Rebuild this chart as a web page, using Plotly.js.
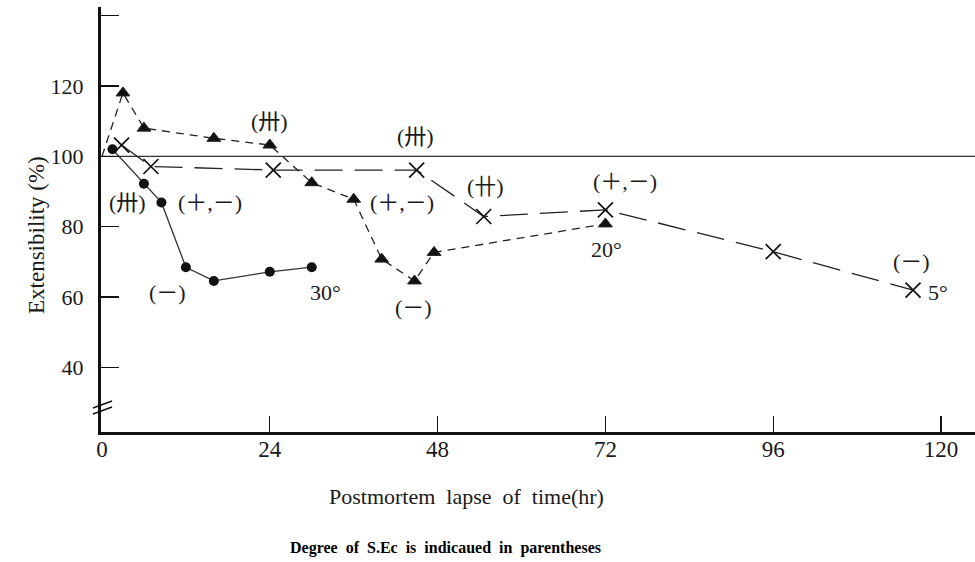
<!DOCTYPE html>
<html>
<head>
<meta charset="utf-8">
<script src="https://cdn.plot.ly/plotly-3.0.1.min.js"></script>
<style>html,body{margin:0;padding:0;background:#fff}</style>
</head>
<body>
<div id="chart" style="width:975px;height:562px"></div>
<script>
// ---- data ----
const circleHours = [1.5, 6, 8.5, 12, 16, 24, 30];
const circleValues = [102, 92.2, 86.9, 68.5, 64.6, 67.2, 68.5];

const triangleHours = [0, 3, 6, 16, 24, 30, 36, 40, 44.7, 47.5, 72];
const triangleValues = [100, 118, 108, 105.1, 103.2, 92.5, 87.8, 70.8, 64.6, 72.7, 80.8];

const crossHours = [2.8, 7, 24.5, 45, 54.6, 72, 96, 116];
const crossValues = [103.2, 97.1, 96.1, 96.1, 82.9, 84.8, 72.9, 62.0];

const xTicks = [0, 24, 48, 72, 96, 120];
const yTicks = [40, 60, 80, 100, 120, 140];
const yTickText = ['40', '60', '80', '100', '120', ''];

const labelTexts = ['(卅)', '(卅)', '(＋,－)', '(－)', '30°', '(卅)', '(＋,－)', '(－)', '(卄)', '(＋,－)', '20°', '(－)', '5°'];
const labelHours = [24, 3.7, 15.5, 9.4, 32.0, 44.9, 42.9, 44.5, 54.9, 74.8, 72.2, 115.8, 119.6];
const labelValues = [109.8, 87, 87, 61.2, 61.2, 105.5, 86.8, 57.2, 91.3, 92.8, 73.4, 70.1, 61.3];

// ---- chart ----
const serif = 'Liberation Serif, Noto Sans CJK JP, serif';
const ink = '#1a1a1a';

const traces = [
  {
    x: circleHours, y: circleValues, type: 'scatter', mode: 'lines+markers',
    line: {color: '#333', width: 1.3},
    marker: {symbol: 'circle', size: 10, color: '#111', opacity: 1},
    showlegend: false, hoverinfo: 'x+y'
  },
  {
    x: triangleHours, y: triangleValues, type: 'scatter', mode: 'lines+markers',
    line: {color: '#222', width: 1.3, dash: '8px,6px'},
    marker: {symbol: 'triangle-up', size: triangleHours.map((h, i) => i === 0 ? 0 : 12), color: '#111', opacity: 1},
    showlegend: false, hoverinfo: 'x+y'
  },
  {
    x: crossHours, y: crossValues, type: 'scatter', mode: 'lines+markers',
    line: {color: '#222', width: 1.3, dash: '28px,12px'},
    marker: {symbol: 'x-thin-open', size: 15, color: '#111', opacity: 1, line: {color: '#111', width: 1.7}},
    showlegend: false, hoverinfo: 'x+y'
  }
];

const annotations = labelTexts.map((t, i) => ({
  x: labelHours[i], y: labelValues[i], xref: 'x', yref: 'y',
  xanchor: 'center', yanchor: 'middle',
  text: t, showarrow: false, font: {family: serif, size: 22, color: ink}
}));

annotations.push(
  {xref: 'paper', yref: 'paper', x: (36 - 101) / 874, y: (432 - 235) / 425, textangle: -90,
   xanchor: 'center', yanchor: 'middle',
   text: 'Extensibility (%)', showarrow: false, font: {family: serif, size: 23, color: ink}},
  {xref: 'paper', yref: 'paper', x: (466 - 101) / 874, y: (432 - 497) / 425,
   xanchor: 'center', yanchor: 'middle',
   text: 'Postmortem  lapse  of  time(hr)', showarrow: false, font: {family: serif, size: 22, color: ink}},
  {xref: 'paper', yref: 'paper', x: (445 - 101) / 874, y: (432 - 548) / 425,
   xanchor: 'center', yanchor: 'middle',
   text: 'Degree  of  S.Ec  is  indicaued  in  parentheses', showarrow: false,
   font: {family: serif, size: 16, color: '#000', weight: 'bold'}}
);

const px = v => (v - 101) / 874;
const py = v => (432 - v) / 425;

const shapes = [
  {type: 'line', xref: 'paper', yref: 'y', x0: 0, x1: 1, y0: 100, y1: 100,
   line: {color: '#333', width: 1.3}, layer: 'below'},
  {type: 'line', xref: 'paper', yref: 'paper', x0: px(93), x1: px(112), y0: py(408), y1: py(401),
   line: {color: '#111', width: 1.6}},
  {type: 'line', xref: 'paper', yref: 'paper', x0: px(93), x1: px(112), y0: py(414), y1: py(407),
   line: {color: '#111', width: 1.6}}
];

const layout = {
  width: 975, height: 562,
  margin: {l: 101, r: 0, t: 7, b: 130},
  paper_bgcolor: '#fff', plot_bgcolor: '#fff',
  showlegend: false,
  xaxis: {
    range: [-0.14, 124.86], tickvals: xTicks, ticktext: xTicks.map(String),
    ticks: 'inside', ticklen: 16, tickwidth: 1.3, tickcolor: '#111',
    showline: true, linewidth: 2.5, linecolor: '#111',
    showgrid: false, zeroline: false,
    tickfont: {family: serif, size: 23, color: ink}, ticklabelstandoff: -5
  },
  yaxis: {
    range: [21.7, 142.4], tickvals: yTicks, ticktext: yTickText,
    ticks: 'inside', ticklen: 18, tickwidth: 1.3, tickcolor: '#111',
    showline: true, linewidth: 3, linecolor: '#111',
    showgrid: false, zeroline: false,
    tickfont: {family: serif, size: 22, color: ink}, ticklabelstandoff: 10
  },
  annotations: annotations,
  shapes: shapes
};

Plotly.newPlot('chart', traces, layout, {displayModeBar: false, staticPlot: true});
</script>
</body>
</html>
